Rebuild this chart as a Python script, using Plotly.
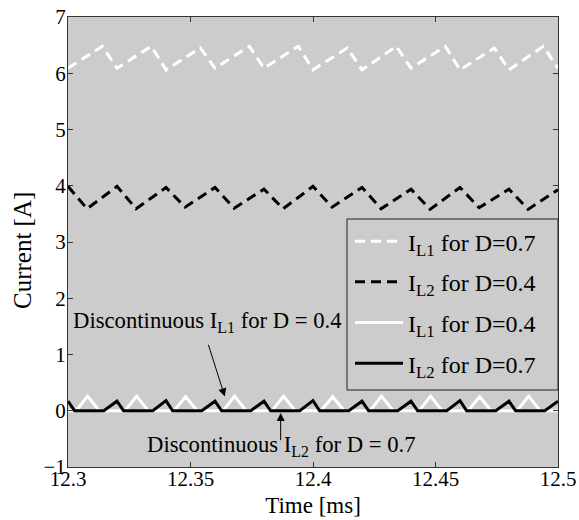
import plotly.graph_objects as go

# Simulated inductor currents over a 0.2 ms window (vertices of the piecewise-linear waveforms)
t_il1_d07 = [12.300, 12.314, 12.320, 12.334, 12.340, 12.354, 12.360, 12.374, 12.380, 12.394,
             12.400, 12.414, 12.420, 12.434, 12.440, 12.454, 12.460, 12.474, 12.480, 12.494, 12.500]
i_il1_d07 = [6.09, 6.48, 6.09, 6.48, 6.06, 6.45, 6.09, 6.48, 6.09, 6.48,
             6.06, 6.45, 6.06, 6.48, 6.09, 6.48, 6.06, 6.45, 6.06, 6.48, 6.09]

t_il2_d04 = [12.3000, 12.3078, 12.3200, 12.3278, 12.3400, 12.3478, 12.3600, 12.3678, 12.3800, 12.3878,
             12.4000, 12.4078, 12.4200, 12.4278, 12.4400, 12.4478, 12.4600, 12.4678, 12.4800, 12.4878, 12.5000]
i_il2_d04 = [3.99, 3.59, 3.99, 3.59, 3.97, 3.62, 3.97, 3.60, 3.94, 3.59,
             3.99, 3.62, 3.97, 3.59, 3.94, 3.58, 3.97, 3.61, 3.94, 3.58, 3.93]

t_il1_d04 = [12.3000, 12.3033, 12.3080, 12.3127, 12.3233, 12.3280, 12.3327, 12.3433, 12.3480, 12.3527,
             12.3633, 12.3680, 12.3727, 12.3833, 12.3880, 12.3927, 12.4033, 12.4080, 12.4127, 12.4233,
             12.4280, 12.4327, 12.4433, 12.4480, 12.4527, 12.4633, 12.4680, 12.4727, 12.4833, 12.4880,
             12.4927, 12.5000]
i_il1_d04 = [0, 0, 0.26, 0, 0, 0.26, 0, 0, 0.25, 0,
             0, 0.26, 0, 0, 0.26, 0, 0, 0.25, 0, 0,
             0.26, 0, 0, 0.26, 0, 0, 0.25, 0, 0, 0.26,
             0, 0]

t_il2_d07 = [12.3000, 12.3027, 12.3146, 12.3200, 12.3227, 12.3346, 12.3400, 12.3427, 12.3546, 12.3600,
             12.3627, 12.3746, 12.3800, 12.3827, 12.3946, 12.4000, 12.4027, 12.4146, 12.4200, 12.4227,
             12.4346, 12.4400, 12.4427, 12.4546, 12.4600, 12.4627, 12.4746, 12.4800, 12.4827, 12.4946,
             12.5000]
i_il2_d07 = [0.17, 0, 0, 0.17, 0, 0, 0.18, 0, 0, 0.17,
             0, 0, 0.17, 0, 0, 0.18, 0, 0, 0.17, 0,
             0, 0.17, 0, 0, 0.18, 0, 0, 0.17, 0, 0,
             0.17]

x_ticks = [12.3, 12.35, 12.4, 12.45, 12.5]
x_tick_labels = ["12.3", "12.35", "12.4", "12.45", "12.5"]
y_ticks = [-1, 0, 1, 2, 3, 4, 5, 6, 7]

FONT = "Liberation Serif"
BG = "#cccccc"

fig = go.Figure()

series = [
    (t_il1_d07, i_il1_d07, "I<sub>L1</sub> for D=0.7", "white", "10px,6px"),
    (t_il2_d04, i_il2_d04, "I<sub>L2</sub> for D=0.4", "black", "10px,6px"),
    (t_il1_d04, i_il1_d04, "I<sub>L1</sub> for D=0.4", "white", "solid"),
    (t_il2_d07, i_il2_d07, "I<sub>L2</sub> for D=0.7", "black", "solid"),
]
for k, (t, i, name, color, dash) in enumerate(series):
    fig.add_trace(go.Scatter(
        x=t, y=i, mode="lines", name=name, legendgroup=f"g{k}",
        line=dict(color=color, width=3, dash=dash),
    ))

axis_common = dict(
    showgrid=False, zeroline=False, showline=True, linecolor="#333333", linewidth=1,
    mirror="ticks", ticks="inside", ticklen=5, tickcolor="#333333", automargin=False,
    tickfont=dict(family=FONT, size=21, color="black"),
)

fig.update_layout(
    width=579, height=520,
    margin=dict(l=68, r=21, t=17, b=53),
    paper_bgcolor="white", plot_bgcolor=BG,
    font=dict(family=FONT, size=22, color="black"),
    xaxis=dict(range=[12.3, 12.5], tickvals=x_ticks, ticktext=x_tick_labels, ticklabelstandoff=-7,
               title=dict(text="Time [ms]", font=dict(family=FONT, size=23), standoff=6),
               **axis_common),
    yaxis=dict(range=[-1, 7], tickvals=y_ticks, ticklabelstandoff=-3,
               **axis_common),
    legend=dict(
        x=(350 - 68) / 490, xanchor="left", y=0.551, yanchor="top",
        bgcolor="rgba(0,0,0,0)", borderwidth=0,
        font=dict(family=FONT, size=24, color="black"),
        itemwidth=48, tracegroupgap=6.5,
    ),
    showlegend=True,
)

# Legend frame spanning to the right edge of the plotting area
fig.add_shape(type="rect", xref="paper", yref="paper",
              x0=(347 - 68) / 490, x1=1, y0=(467 - 390) / 450, y1=(467 - 219) / 450,
              fillcolor=BG, line=dict(color="#222222", width=1), layer="above")

# Y axis title
fig.add_annotation(x=(22 - 68) / 490, y=(467 - 251) / 450, xref="paper", yref="paper",
                   xanchor="center", yanchor="middle",
                   text="Current [A]", textangle=-90, showarrow=False,
                   font=dict(family=FONT, size=25, color="black"))

# Text labels and pointer arrows
fig.add_annotation(x=12.3014, y=1.57, xref="x", yref="y", xanchor="left", yanchor="middle",
                   text="Discontinuous I<sub>L1</sub> for D = 0.4", showarrow=False,
                   font=dict(family=FONT, size=22.7, color="black"))
fig.add_annotation(x=12.3640, y=0.254, ax=12.3571, ay=1.20, xref="x", yref="y", axref="x", ayref="y",
                   text="", showarrow=True, arrowhead=2, arrowsize=1.6, arrowwidth=1, arrowcolor="black")
fig.add_annotation(x=12.3316, y=-0.62, xref="x", yref="y", xanchor="left", yanchor="middle",
                   text="Discontinuous I<sub>L2</sub> for D = 0.7", showarrow=False,
                   font=dict(family=FONT, size=22.7, color="black"))
fig.add_annotation(x=12.3868, y=-0.04, ax=12.3868, ay=-0.55, xref="x", yref="y", axref="x", ayref="y",
                   text="", showarrow=True, arrowhead=2, arrowsize=1.6, arrowwidth=1, arrowcolor="black")

fig.write_html("out.html")
